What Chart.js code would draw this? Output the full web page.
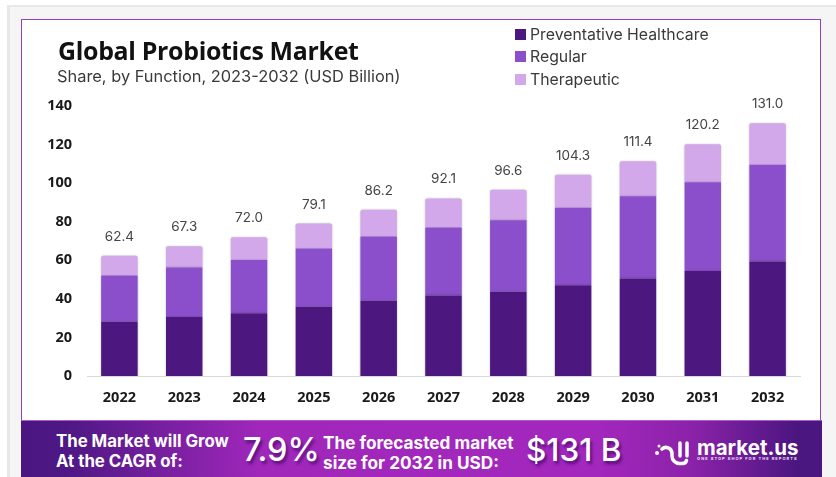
<!DOCTYPE html>
<html lang="en">
<head>
  <meta charset="UTF-8" />
  <title>Global Probiotics Market</title>
  <script src="https://cdn.jsdelivr.net/npm/chart.js"></script>
  <style>
    html, body { margin: 0; padding: 0; background: #fff; }
    #page { position: relative; width: 836px; height: 477px; overflow: hidden; background: #fff; }
    #edge { position: absolute; left: 7px; top: 5px; right: 0; bottom: 0; background: #f5f5f5; border-left: 3px solid #e8e8e8; border-top: 2px solid #e8e8e8; }
    #card { position: absolute; left: 21px; top: 19px; width: 798px; height: 420px; background: #fff; border: 1.5px solid #9440c4; box-sizing: content-box; }
    canvas { position: absolute; left: 0; top: 0; }
    .txt { position: absolute; white-space: nowrap; }
    #title { left: 58px; top: 33px; font: 700 24.9px 'Open Sans', sans-serif; color: #111; letter-spacing: -0.3px; }
    #subtitle { left: 57px; top: 66px; font: 400 16.4px Inter, sans-serif; color: #3a3a3a; }
    #legend div { position: absolute; left: 515px; font: 400 15.8px Inter, sans-serif; color: #3a3a3a; white-space: nowrap; padding-left: 15px; }
    #legend span { position: absolute; left: 0; top: 4px; width: 11px; height: 11px; }
    #banner { position: absolute; left: 21px; top: 420px; width: 801px; height: 57px; background: linear-gradient(90deg, #4a1680 0%, #4f1885 6%, #a127bb 30%, #a327bd 72%, #8a22a8 84%, #4a1680 97%); border-top: 1px solid #b05ad0; box-sizing: border-box; }
    .small { font: 700 16.8px Inter, sans-serif; color: #fff; line-height: 20px; }
    .big { font: 500 32.5px Inter, sans-serif; color: #fff; text-shadow: 2px 3px 3px rgba(40, 0, 80, 0.6); }
    #brand { left: 697px; top: 435px; font: 700 20.5px Inter, sans-serif; color: #fff; }
    #tagline { left: 697px; top: 456px; font: 700 4px Inter, sans-serif; color: #f0e0f8; letter-spacing: 1.05px; }
    #logo { position: absolute; left: 650px; top: 432px; }
  </style>
</head>
<body>
  <div id="page">
    <div id="edge"></div>
    <div id="card"></div>
    <canvas id="marketChart" width="836" height="420"></canvas>
    <div class="txt" id="title">Global Probiotics Market</div>
    <div class="txt" id="subtitle">Share, by Function, 2023-2032 (USD Billion)</div>
    <div id="legend"></div>
    <div id="banner"></div>
    <div class="txt small" style="left:56px;top:431px">The Market will Grow<br>At the CAGR of:</div>
    <div class="txt big" style="left:243px;top:430px">7.9%</div>
    <div class="txt small" style="left:323px;top:433px;font-size:17.2px">The forecasted market<br>size for 2032 in USD:</div>
    <div class="txt big" style="left:526px;top:430px;font-size:31.5px">$131 B</div>
    <svg id="logo" width="44" height="36" viewBox="0 0 44 36" fill="none" stroke="#fff" stroke-width="3.5" stroke-linecap="round">
      <circle cx="7" cy="21" r="2" fill="#fff" stroke="none" />
      <circle cx="9" cy="14" r="1.5" fill="#fff" stroke="none" />
      <path d="M12 17 a6 6 0 0 1 10 4 v3 a7.5 7.5 0 0 0 7.5 7.5 h3 a4 4 0 0 0 4 -3" />
      <path d="M30 11 v13" />
      <path d="M37 11 v13" />
    </svg>
    <div class="txt" id="brand">market.us</div>
    <div class="txt" id="tagline">ONE STOP SHOP FOR THE REPORTS</div>
  </div>

  <script>
    const years = ['2022', '2023', '2024', '2025', '2026', '2027', '2028', '2029', '2030', '2031', '2032'];
    const preventative = [28.1, 30.6, 32.5, 35.9, 39.0, 41.8, 43.7, 47.1, 50.6, 54.4, 59.4];
    const regular = [24.0, 25.7, 27.6, 30.2, 33.3, 35.2, 37.1, 40.1, 42.6, 46.1, 50.2];
    const therapeutic = [10.3, 11.0, 11.9, 13.0, 13.9, 15.1, 15.8, 17.1, 18.2, 19.7, 21.4];
    const totals = ['62.4', '67.3', '72.0', '79.1', '86.2', '92.1', '96.6', '104.3', '111.4', '120.2', '131.0'];
    const seriesNames = ['Preventative Healthcare', 'Regular', 'Therapeutic'];
    const seriesColors = ['#4d1780', '#8b4fcb', '#d2a8ea'];

    // legend sits in the top right corner of the card, stacked vertically
    const legendTops = [25, 47, 70];
    seriesNames.forEach((name, i) => {
      const row = document.createElement('div');
      row.style.top = legendTops[i] + 'px';
      row.innerHTML = `<span style="background:${seriesColors[i]}"></span>${name}`;
      document.getElementById('legend').appendChild(row);
    });

    // soft shadow round the bars
    const barShadow = {
      id: 'barShadow',
      beforeDatasetsDraw(chart) {
        const ctx = chart.ctx;
        ctx.save();
        ctx.shadowColor = 'rgba(0, 0, 0, 0.25)';
        ctx.shadowBlur = 2;
      },
      afterDatasetsDraw(chart) {
        chart.ctx.restore();
      }
    };

    // total above each stack
    const totalLabels = {
      id: 'totalLabels',
      afterDraw(chart) {
        const ctx = chart.ctx;
        const top = chart.getDatasetMeta(2).data;
        ctx.save();
        ctx.font = "400 13.5px Inter, sans-serif";
        ctx.fillStyle = '#444';
        ctx.textAlign = 'center';
        ctx.textBaseline = 'middle';
        top.forEach((bar, i) => ctx.fillText(totals[i], bar.x, bar.y - 19));
        ctx.restore();
      }
    };

    const tickFont = { family: "'Open Sans', sans-serif", size: 14.5, weight: '700' };

    new Chart(document.getElementById('marketChart'), {
      type: 'bar',
      data: {
        labels: years,
        datasets: [
          { label: seriesNames[0], data: preventative, backgroundColor: seriesColors[0] },
          { label: seriesNames[1], data: regular, backgroundColor: seriesColors[1] },
          {
            label: seriesNames[2],
            data: therapeutic,
            backgroundColor: seriesColors[2],
            borderRadius: { topLeft: 2, topRight: 2 },
            borderSkipped: false
          }
        ]
      },
      options: {
        responsive: false,
        animation: false,
        barPercentage: 0.563,
        categoryPercentage: 1,
        layout: { padding: { top: 106, right: 36, bottom: 0, left: 0 } },
        scales: {
          x: {
            stacked: true,
            grid: { display: false, drawTicks: false },
            border: { display: true, color: '#d9d9d9', width: 1 },
            ticks: { font: tickFont, color: '#1a1a1a', padding: 13, maxRotation: 0 },
            afterFit(scale) { scale.height = 44; }
          },
          y: {
            stacked: true,
            min: 0,
            max: 140,
            grid: { display: false, drawTicks: false },
            border: { display: false },
            ticks: { stepSize: 20, font: tickFont, color: '#1a1a1a', padding: 15 },
            afterFit(scale) { scale.width = 87; }
          }
        },
        plugins: {
          legend: { display: false },
          tooltip: { enabled: false }
        }
      },
      plugins: [barShadow, totalLabels]
    });
  </script>
</body>
</html>
